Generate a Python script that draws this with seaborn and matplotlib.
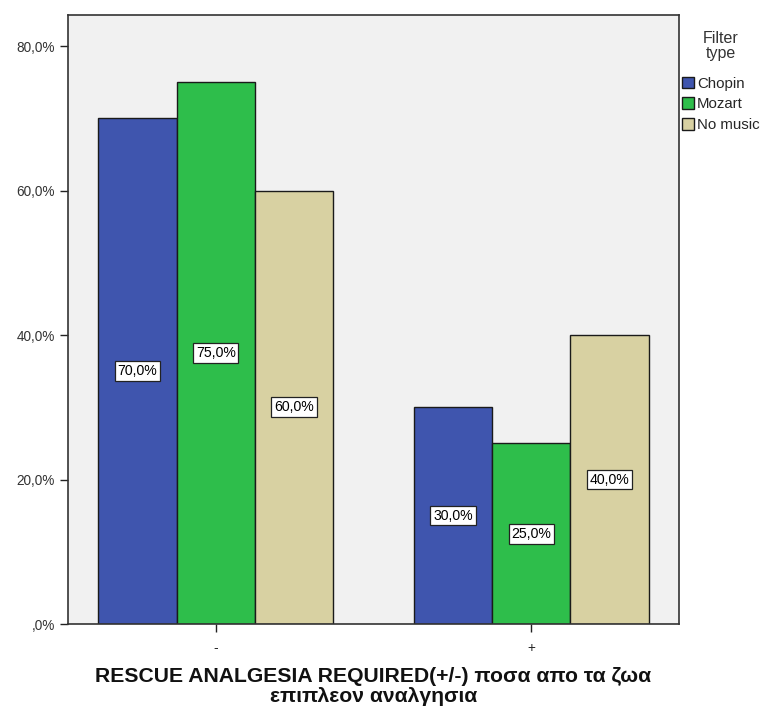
import matplotlib
matplotlib.use("Agg")
import matplotlib.pyplot as plt
import seaborn as sns
import pandas as pd

categories = ["-", "+"]
groups = ["Chopin", "Mozart", "No music"]
chopin = [70.0, 30.0]
mozart = [75.0, 25.0]
no_music = [60.0, 40.0]
yticks = [0, 20, 40, 60, 80]
ytick_labels = [",0%", "20,0%", "40,0%", "60,0%", "80,0%"]

colors = ["#3F55AE", "#2EBE4B", "#D8D1A2"]

rows = []
for g, vals in zip(groups, [chopin, mozart, no_music]):
    for c, v in zip(categories, vals):
        rows.append({"cat": c, "group": g, "pct": v})
df = pd.DataFrame(rows)

sns.set_style("white")
plt.rcParams["font.family"] = ["Liberation Sans", "DejaVu Sans"]

fig = plt.figure(figsize=(7.65, 7.07), dpi=100)
ax = fig.add_axes([68/765, 1-624/707, (679-68)/765, (624-15)/707])
ax.set_facecolor("#F1F1F1")

sns.barplot(data=df, x="cat", y="pct", hue="group", order=categories,
            hue_order=groups, palette=colors, width=0.745, gap=0,
            edgecolor="#1a1a1a", linewidth=1.0, saturation=1, ax=ax,
            legend=True)

for cont in ax.containers:
    for bar in cont:
        h = bar.get_height()
        x = bar.get_x() + bar.get_width() / 2
        ax.text(x, h / 2, f"{h:.1f}%".replace(".", ","), ha="center", va="center",
                fontsize=10.2, color="#000000",
                bbox=dict(boxstyle="square,pad=0.2", facecolor="white",
                          edgecolor="#222222", linewidth=0.9))

ax.set_xlim(-0.468, 0.468 + 1)
ax.set_ylim(0, 84.3)
ax.set_yticks(yticks)
ax.set_yticklabels(ytick_labels, fontsize=9.8, color="#333333")
ax.tick_params(axis="both", direction="out", length=6, width=1, color="#222222",
               left=True, bottom=True)
ax.tick_params(axis="x", labelsize=9.8, pad=6)
for s in ax.spines.values():
    s.set_color("#333333")
    s.set_linewidth(1.2)
ax.set_ylabel("")
ax.set_xlabel("RESCUE ANALGESIA REQUIRED(+/-) ποσα απο τα ζωα\nεπιπλεον αναλγησια",
              fontsize=15.2, fontweight="bold", labelpad=9, linespacing=1.08,
              color="#111111")

leg = ax.legend(title="Filter\ntype", loc="upper left", bbox_to_anchor=(0.99, 0.988),
                frameon=False, fontsize=10.8, title_fontsize=11.5,
                handlelength=0.8, handleheight=0.8, handletextpad=0.2,
                labelspacing=0.45, borderaxespad=0.2)
leg.get_title().set_ha("center")
leg.get_title().set_color("#333333")
leg.get_title().set_linespacing(1.0)
leg._legend_box.align = "center"
leg._legend_box.sep = 11

fig.savefig("out.png", dpi=100)
